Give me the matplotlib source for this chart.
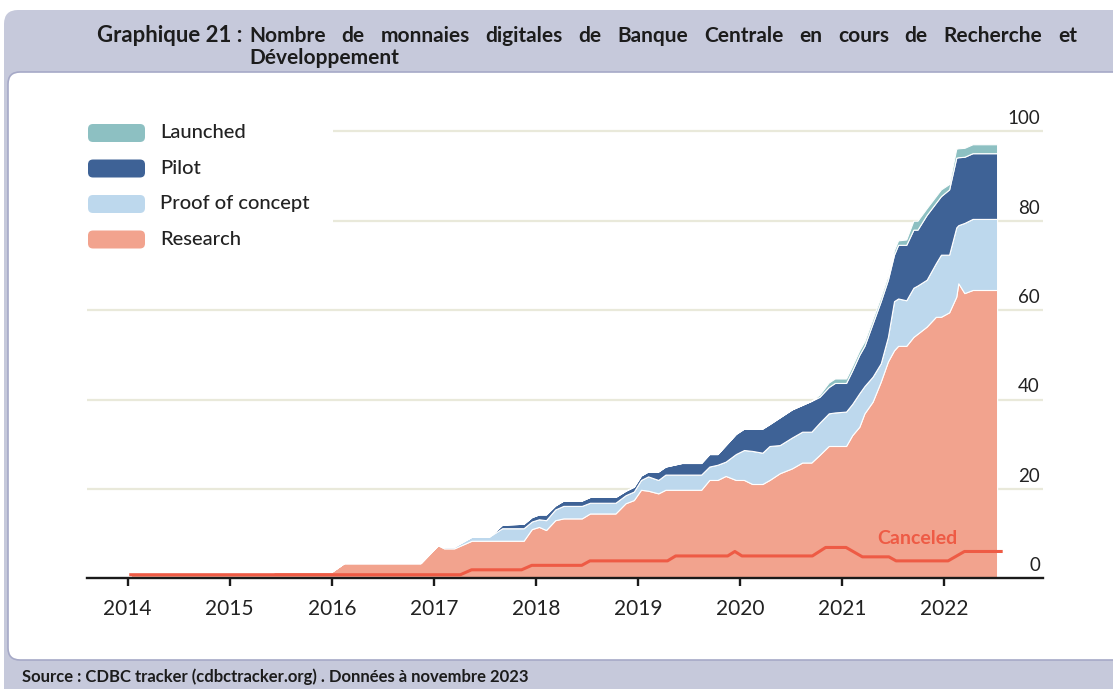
import matplotlib
matplotlib.use("Agg")
import matplotlib.pyplot as plt
from matplotlib.patches import FancyBboxPatch
from matplotlib.transforms import IdentityTransform

# --- data (number of CBDC projects) ---
years = [2014.03, 2015.40, 2015.45, 2016.00, 2016.12, 2016.87, 2017.04, 2017.10,
         2017.20, 2017.37, 2017.54, 2017.67, 2017.88, 2017.96, 2018.03, 2018.10,
         2018.19, 2018.27, 2018.45, 2018.53, 2018.78, 2018.88, 2018.96, 2019.03,
         2019.10, 2019.20, 2019.27, 2019.43, 2019.62, 2019.70, 2019.78, 2019.86,
         2019.96, 2020.04, 2020.12, 2020.22, 2020.29, 2020.39, 2020.51, 2020.61,
         2020.70, 2020.78, 2020.87, 2020.93, 2021.04, 2021.10, 2021.17, 2021.22,
         2021.30, 2021.38, 2021.45, 2021.51, 2021.55, 2021.63, 2021.70, 2021.74,
         2021.83, 2021.92, 2021.97, 2022.05, 2022.12, 2022.14, 2022.20, 2022.28,
         2022.52]
research = [1.2, 1.2, 1.5, 1.5, 3.4, 3.4, 7.4, 6.7,
            6.7, 8.4, 8.4, 8.4, 8.4, 11.0, 11.5, 10.8,
            13.0, 13.4, 13.4, 14.5, 14.5, 16.8, 17.5, 19.8,
            19.6, 19.0, 19.8, 19.8, 19.8, 22.0, 22.0, 22.9,
            22.0, 22.0, 21.1, 21.1, 22.0, 23.5, 24.6, 25.9,
            25.9, 27.6, 29.6, 29.6, 29.6, 32.0, 33.9, 36.9,
            39.5, 44.0, 48.5, 51.0, 52.0, 52.0, 54.0, 54.7,
            56.3, 58.5, 58.5, 59.5, 63.0, 66.0, 63.8, 64.5,
            64.5]
proof_of_concept = [0, 0, 0, 0, 0, 0, 0, 0.3,
                    0.4, 0.9, 0.9, 2.8, 2.8, 1.7, 1.7, 2.2,
                    2.4, 2.8, 2.8, 2.4, 2.4, 1.8, 1.9, 2.2,
                    3.2, 3.0, 3.4, 3.4, 3.4, 3.0, 3.4, 3.2,
                    5.8, 6.7, 7.4, 7.0, 7.6, 6.3, 6.9, 6.9,
                    6.9, 7.2, 7.3, 7.5, 7.7, 7.0, 7.5, 6.1,
                    5.6, 4.1, 5.5, 11.0, 10.6, 10.2, 11.0, 10.8,
                    10.5, 12.0, 13.9, 12.9, 15.5, 13.0, 15.7, 15.9,
                    15.9]
pilot = [0, 0, 0, 0, 0, 0, 0, 0,
         0, 0, 0, 0.8, 1.0, 1.0, 1.1, 1.3,
         0.9, 1.2, 1.2, 1.3, 1.3, 1.0, 1.1, 1.0,
         1.1, 1.9, 1.8, 2.6, 2.6, 2.8, 2.4, 3.7,
         4.5, 4.8, 5.0, 5.4, 4.9, 6.2, 6.3, 6.0,
         6.9, 5.8, 5.9, 6.6, 6.4, 7.5, 8.6, 9.0,
         11.9, 13.9, 12.8, 10.4, 12.0, 12.4, 13.0, 12.5,
         14.5, 13.5, 13.1, 14.6, 15.6, 15.2, 14.8, 14.7,
         14.7]
launched = [0, 0, 0, 0, 0, 0, 0, 0,
            0, 0, 0, 0, 0, 0, 0, 0,
            0, 0, 0, 0, 0, 0, 0, 0,
            0, 0, 0, 0, 0, 0, 0, 0,
            0, 0, 0, 0, 0, 0, 0, 0,
            0, 0.5, 1, 1, 1, 1, 1, 1,
            1, 1, 1, 1, 1, 1.2, 2, 2,
            1.5, 1.5, 1.5, 1.2, 2, 2, 2, 2,
            2]

canceled_years = [2014.03, 2017.26, 2017.37, 2017.86, 2017.96, 2018.45, 2018.53,
                  2019.29, 2019.37, 2019.88, 2019.95, 2020.02, 2020.71, 2020.84,
                  2021.04, 2021.20, 2021.46, 2021.53, 2022.04, 2022.20, 2022.56]
canceled = [0.8, 0.8, 1.9, 1.9, 2.9, 2.9, 3.9,
            3.9, 5.0, 5.0, 6.0, 5.0, 5.0, 6.9,
            6.9, 4.8, 4.8, 3.9, 3.9, 6.0, 6.0]

tick_years = [2014, 2015, 2016, 2017, 2018, 2019, 2020, 2021, 2022]
grid_values = [0, 20, 40, 60, 80, 100]

series_names = ["Launched", "Pilot", "Proof of concept", "Research"]
series_colors = ["#8dc0c2", "#3e6296", "#bdd8ed", "#f2a38e"]
canceled_color = "#ee5b45"
frame_color = "#c6c9db"

title_head = "Graphique 21 :"
title_line1 = "Nombre de monnaies digitales de Banque Centrale en cours de Recherche et"
title_line2 = "Développement"
source = "Source : CDBC tracker (cdbctracker.org) . Données à novembre 2023"

W, H = 1113, 689
fig = plt.figure(figsize=(W / 100, H / 100), dpi=100)
fig.patch.set_facecolor("white")

# background frame
fig.patches.append(FancyBboxPatch((4, -20), W + 40, H - 10 + 20,
                                  boxstyle="round,pad=0,rounding_size=14",
                                  transform=IdentityTransform(),
                                  facecolor=frame_color, edgecolor="none", zorder=0))
fig.patches.append(FancyBboxPatch((8, H - 660), W + 40, 588,
                                  boxstyle="round,pad=0,rounding_size=12",
                                  transform=IdentityTransform(),
                                  facecolor="white", edgecolor="#a6a9c7",
                                  linewidth=1.2, zorder=0.5))

# axes placed by pixels
ax_left, ax_right, ax_top, ax_zero = 87, 1043, 110, 578.3
ax = fig.add_axes([ax_left / W, (H - ax_zero) / H,
                   (ax_right - ax_left) / W, (ax_zero - ax_top) / H])
ax.set_zorder(2)
ax.patch.set_alpha(0)
ppu = 4.47  # pixels per unit
yr_px = 102.04
x0 = 2014 + (ax_left - 127.7) / yr_px
x1 = 2014 + (ax_right - 127.7) / yr_px
ax.set_xlim(x0, x1)
ax.set_ylim(0, (ax_zero - ax_top) / ppu)

# grid lines (upper two stop where the legend sits)
for v in grid_values[1:]:
    start = x0 if v <= 60 else 2016.01
    ax.hlines(v, start, x1, color="#e9e9da", lw=1.6, zorder=0)
for v in grid_values:
    ax.text(x1 - 0.03, v + 1.6, str(v), ha="right", va="baseline",
            fontsize=13.5, family="Lato", color="#222222")

ax.stackplot(years, research, proof_of_concept, pilot, launched,
             colors=series_colors[::-1], edgecolor="white", linewidth=0.8,
             zorder=2)
ax.plot(canceled_years, canceled, color=canceled_color, lw=2.2, zorder=3,
        solid_joinstyle="round")
ax.text(2021.735, 8.8, "Canceled", color=canceled_color, fontsize=14,
        fontweight="bold", family="Lato", ha="center", va="center", zorder=4)

for s in ["top", "left", "right"]:
    ax.spines[s].set_visible(False)
ax.spines["bottom"].set_linewidth(1.7)
ax.spines["bottom"].set_color("#1a1a1a")
ax.set_yticks([])
ax.set_xticks(tick_years)
ax.set_xticklabels([str(y) for y in tick_years], family="Lato", fontsize=15,
                   color="#222222")
ax.tick_params(axis="x", direction="out", length=6, width=1.7,
               color="#1a1a1a", pad=9)

# legend
for i, (name, col) in enumerate(zip(series_names, series_colors)):
    cy = 133 + i * 35.5
    fig.patches.append(FancyBboxPatch((88, H - cy - 9), 57, 18,
                                      boxstyle="round,pad=0,rounding_size=5",
                                      transform=IdentityTransform(),
                                      facecolor=col, edgecolor="none", zorder=3))
    fig.text(160 / W, (H - cy) / H, name, fontsize=14.5, family="Lato",
             fontweight="medium", color="#222222", va="center", ha="left",
             zorder=3)

# title: first line justified between x=249 and x=1077 like the original
tkw = dict(fontsize=15, fontweight="bold", family="Lato", color="#1c1c1c",
           va="center", ha="left")
t_head = fig.text(97 / W, (H - 36) / H, title_head, **tkw)
words = [fig.text(0, (H - 36) / H, w, **tkw) for w in title_line1.split()]
fig.text(249 / W, (H - 58) / H, title_line2, **tkw)
t_src = fig.text(22 / W, (H - 677) / H, source, fontsize=10, fontweight="bold",
                 family="Lato", color="#1c1c1c", va="center", ha="left")

fig.canvas.draw()
r = fig.canvas.get_renderer()
t_head.set_fontsize(15 * (243 - 97) / t_head.get_window_extent(r).width)
widths = [w.get_window_extent(r).width for w in words]
gap = (1077 - 249 - sum(widths)) / (len(words) - 1)
xpos = 249
for w, wd in zip(words, widths):
    w.set_x(xpos / W)
    xpos += wd + gap
t_src.set_fontsize(10 * (530 - 22) / t_src.get_window_extent(r).width)

fig.savefig("out.png", dpi=100)
